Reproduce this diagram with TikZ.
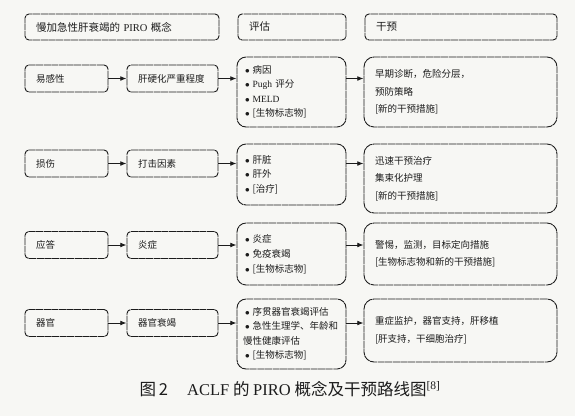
\documentclass[tikz,border=0pt]{standalone}
\usepackage{fontspec}
\setmainfont{Noto Sans CJK SC}
\newfontfamily\lat{Liberation Serif}
\usetikzlibrary{arrows.meta}
\definecolor{ink}{HTML}{1C1C1C}
\definecolor{paper}{HTML}{F7F7F4}
\tikzset{
  every node/.style = {text=ink},
  prbase/.style  = {draw=ink, line width=0.9pt, dash pattern=on 7pt off 0.6pt,
                    align=left, inner xsep=11pt, inner ysep=0pt, rounded corners=4pt},
  prhead/.style  = {prbase, minimum height=26pt, font=\fontsize{10.5}{13}\selectfont},
  prfac/.style   = {prbase, minimum height=27pt, font=\fontsize{9.5}{12}\selectfont},
  preval/.style  = {prbase, inner xsep=6pt, rounded corners=9pt, font=\fontsize{9.5}{14.5}\selectfont},
  prdo/.style    = {prbase, rounded corners=10pt, font=\fontsize{9.5}{17.5}\selectfont},
  prgo/.style    = {-{Latex[length=2.2mm,width=1.7mm]}, draw=ink, line width=0.9pt},
  prcap/.style   = {font=\fontsize{16.5}{19}\selectfont},
}
\newcommand{\prb}{\hspace*{2pt}$\bullet$\nobreak\hspace{3pt}}

\begin{document}
\begin{tikzpicture}[x=1pt, y=-1pt]
\fill[paper] (0,0) rectangle (575,416);
\useasboundingbox (0,0) rectangle (575,416);

% column heads
\node[prhead, text width=172pt] (h0) at (122,27) {慢加急性肝衰竭的 {\lat PIRO} 概念};
\node[prhead, text width=86pt]  (h1) at (292,27) {评估};
\node[prhead, text width=170pt] (h2) at (461,27) {干预};

% P
\node[prfac, text width=61pt] (p0) at (66.5,78.5) {易感性};
\node[prfac, text width=69pt] (p1) at (172.5,78.5) {肝硬化严重程度};
\node[preval, text width=97pt, minimum height=70pt] (pe) at (291.5,92)
  {\prb 病因\\\prb {\lat Pugh} 评分\\\prb {\lat MELD}\\\prb {[}生物标志物{]}};
\node[prdo, text width=171pt, minimum height=70pt] (pd) at (460.5,92)
  {早期诊断，危险分层，\\预防策略\\{[}新的干预措施{]}};

% I
\node[prfac, text width=61pt] (i0) at (66.5,163.5) {损伤};
\node[prfac, text width=69pt] (i1) at (172.5,163.5) {打击因素};
\node[preval, text width=97pt, minimum height=61pt] (ie) at (291.5,174.5)
  {\prb 肝脏\\\prb 肝外\\\prb {[}治疗{]}};
\node[prdo, text width=171pt, minimum height=69pt] (id) at (460.5,178.5)
  {迅速干预治疗\\集束化护理\\{[}新的干预措施{]}};

% R
\node[prfac, text width=61pt] (r0) at (66.5,245) {应答};
\node[prfac, text width=69pt] (r1) at (172.5,245) {炎症};
\node[preval, text width=97pt, minimum height=62pt] (re) at (291.5,254)
  {\prb 炎症\\[1pt]\prb 免疫衰竭\\\prb {[}生物标志物{]}};
\node[prdo, text width=171pt, minimum height=62pt] (rd) at (460.5,254)
  {警惕，监测，目标定向措施\\[-1pt]{[}生物标志物和新的干预措施{]}};

% O
\node[prfac, text width=61pt] (o0) at (66.5,323) {器官};
\node[prfac, text width=69pt] (o1) at (172.5,323) {器官衰竭};
\node[preval, text width=97pt, minimum height=70pt] (oe) at (291.5,334)
  {\prb 序贯器官衰竭评估\\\mbox{\prb 急性生理学、年龄和}\\慢性健康评估\\\prb {[}生物标志物{]}};
\node[prdo, text width=171pt, minimum height=63pt] (od) at (460.5,330.5)
  {重症监护，器官支持，肝移植\\{[}肝支持，干细胞治疗{]}};

\foreach \r in {p,i,r,o} {
  \draw[prgo] (\r0) -- (\r1);
  \draw[prgo] (\r1) -- (\r1 -| \r e.west);
  \draw[prgo] (\r1 -| \r e.east) -- (\r1 -| \r d.west);
}

\node[prcap] (cap) at (290,389)
  {图\,2\quad\,{\lat ACLF} 的 {\lat PIRO} 概念及干预路线图\textsuperscript{\lat[8]}};
\end{tikzpicture}
\end{document}
